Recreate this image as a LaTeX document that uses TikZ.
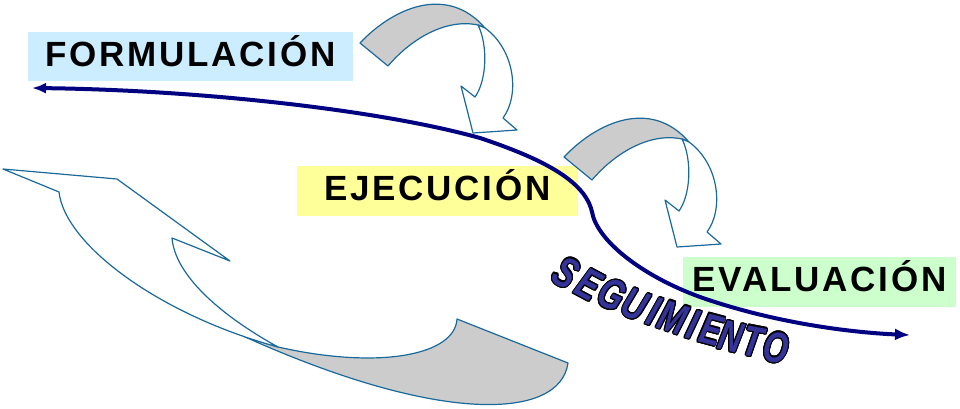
\documentclass[tikz,border=0pt]{standalone}
\usepackage{fontspec}
\setmainfont{Liberation Sans}
\usetikzlibrary{arrows.meta}
\usepackage{contour}
\contourlength{0.9pt}
\usepackage{xcolor}

\definecolor{cajaazul}{RGB}{204,236,255}
\definecolor{cajaamarilla}{RGB}{255,255,153}
\definecolor{cajaverde}{RGB}{204,255,204}
\definecolor{lineaazul}{RGB}{0,0,128}
\definecolor{bordeflecha}{RGB}{25,105,155}
\definecolor{grisflecha}{RGB}{204,204,204}
\definecolor{segazul}{RGB}{51,51,153}

\tikzset{
  etapa/.style={inner sep=0pt, text height=25pt, text depth=6pt,
    font=\fontsize{35}{40}\selectfont\bfseries\addfontfeature{LetterSpace=8}},
  flecha/.style={draw=bordeflecha, line width=1.2pt, line join=round},
  linea/.style={draw=lineaazul, line width=4pt,
    {Latex[length=14pt,width=11pt]}-{Latex[length=15pt,width=12pt]}},
  letra/.style={text=segazul, inner sep=0pt, yscale=1.35,
    font=\fontsize{32}{32}\selectfont\bfseries\itshape}
}

\begin{document}
\begin{tikzpicture}[x=1pt, y=-1pt]

\useasboundingbox (0,0) rectangle (960,408);

% etapas
\node[etapa, fill=cajaazul, minimum width=325pt, minimum height=49pt] (formulacion) at (190.5,56.5) {FORMULACIÓN};
\node[etapa, fill=cajaamarilla, minimum width=281pt, minimum height=50pt] (ejecucion) at (437.5,191) {EJECUCIÓN};
\node[etapa, fill=cajaverde, minimum width=273pt, minimum height=50pt] (evaluacion) at (819.5,282) {EVALUACIÓN};

% flecha grande de vuelta
\draw[flecha, fill=grisflecha] (243,336) -- (278,347) .. controls (380,370) and (455,355) .. (457,319)
    -- (568,363) .. controls (560,420) and (440,425) .. (243,336) -- cycle;
\draw[flecha, fill=white] (3,169) -- (117,179) -- (230,261) -- (172,238)
    .. controls (175,275) and (220,315) .. (278,347)
    .. controls (160,315) and (65,245) .. (59,192) -- cycle;

% flechas curvas pequenas
\foreach \dx/\dy in {0/0, 204/114} {
    \begin{scope}[shift={(\dx,\dy)}]
        \draw[flecha, fill=grisflecha] (360,43) .. controls (393,8) and (447,-16) .. (485,28)
            -- (478,25) .. controls (445,18) and (410,40) .. (388,66) -- cycle;
        \draw[flecha, fill=white] (478,25) .. controls (488,45) and (487,80) .. (475,97)
            -- (461,86) -- (473,133) -- (517,130) -- (503,118)
            .. controls (520,95) and (515,50) .. (485,28) -- cycle;
    \end{scope}
}

% linea principal
\coordinate (izq) at (32,88);
\coordinate (der) at (910,335);
\draw[linea] (izq) .. controls (200,90) and (380,110) .. (480,138)
    .. controls (540,158) and (585,180) .. (592,212)
    .. controls (597,240) and (640,275) .. (700,297)
    .. controls (780,325) and (860,333) .. (der);

% SEGUIMIENTO
\foreach [count=\i] \letra/\px/\py/\ang in {S/566/273/-30, E/589/285/-28, G/612/295/-25,
    U/635/305/-23, I/654/312/-21, M/673/318/-19, I/693/325/-17, E/711/330/-15,
    N/731/337/-13, T/753/342/-11, O/776/348/-9}
    \node[rotate=\ang, letra] (seg\i) at (\px,\py) {\contour{black}{\letra}};

\end{tikzpicture}
\end{document}
